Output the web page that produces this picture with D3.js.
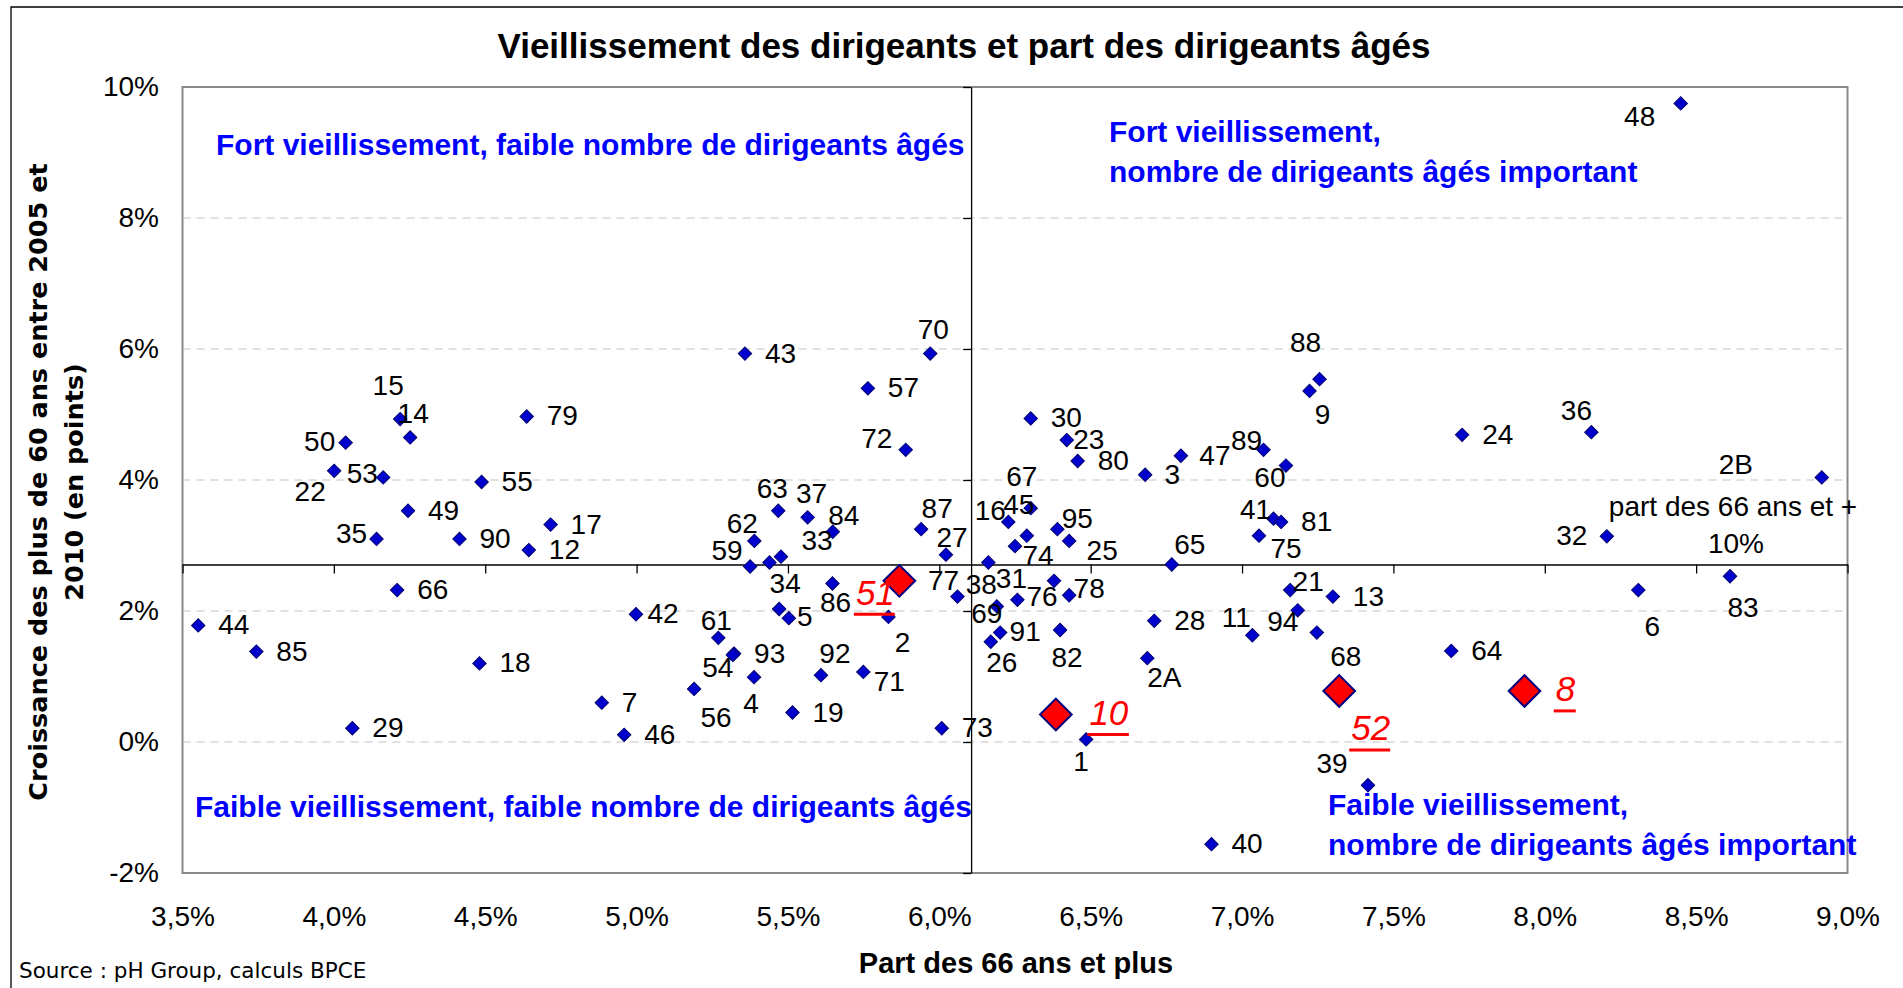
<!DOCTYPE html>
<html>
<head>
<meta charset="utf-8">
<script src="https://cdn.jsdelivr.net/npm/d3@7"></script>
<style>
body{margin:0;background:#fff;}
svg{display:block;}
</style>
</head>
<body>
<svg id="chart" width="1903" height="988"></svg>
<script>
// départements
var depts = ["44","85","29","22","50","53","15","14","35","49","90","55","79","17","12","66","18","7","46","42",
	"61","93","54","56","4","19","92","71","5","34","58","59","62","63","37","84","33","86","2","51",
	"87","27","77","43","57","72","70","73","16","67","45","74","38","95","25","31","76","78","69","91",
	"26","82","30","23","80","3","47","89","60","88","9","41","81","75","65","28","2A","11","21","94",
	"68","13","52","10","1","39","40","48","24","36","2B","32","83","6","64","8"];
// part des 66 ans et plus (%)
var part66 = [3.552,3.744,4.061,4.001,4.039,4.163,4.219,4.252,4.141,4.245,4.415,4.488,4.637,4.716,4.644,4.209,4.481,4.885,4.959,4.998,
	5.270,5.322,5.318,5.190,5.388,5.515,5.609,5.749,5.503,5.471,5.439,5.375,5.389,5.468,5.565,5.648,5.477,5.647,5.832,5.868,
	5.940,6.022,6.060,5.358,5.764,5.889,5.970,6.008,6.228,6.302,6.289,6.250,6.162,6.390,6.429,6.258,6.379,6.429,6.190,6.201,
	6.170,6.399,6.302,6.421,6.457,6.680,6.798,7.071,7.145,7.256,7.223,7.104,7.129,7.056,6.768,6.710,6.687,7.034,7.159,7.184,
	7.247,7.300,7.321,6.385,6.485,7.416,6.899,8.449,7.727,8.154,8.915,8.205,8.612,8.309,7.691,7.933];
// croissance des plus de 60 ans entre 2005 et 2010 (points)
var croissance = [1.78,1.38,0.21,4.14,4.57,4.04,4.93,4.65,3.10,3.53,3.10,3.97,4.97,3.32,2.93,2.32,1.20,0.60,0.11,1.95,
	1.59,1.35,1.33,0.81,0.99,0.45,1.02,1.07,1.89,2.03,2.74,2.68,3.07,3.53,3.43,3.21,2.83,2.42,1.91,2.46,
	3.25,2.86,2.22,5.93,5.40,4.46,5.93,0.21,3.36,3.57,3.15,2.99,2.74,3.25,3.07,2.17,2.46,2.24,2.07,1.67,
	1.53,1.71,4.94,4.61,4.29,4.08,4.37,4.46,4.22,5.54,5.36,3.41,3.36,3.15,2.71,1.85,1.28,1.63,2.32,2.01,
	1.67,2.22,0.78,0.42,0.04,-0.66,-1.56,9.75,4.69,4.73,4.04,3.14,2.53,2.32,1.39,0.78];
var highlighted = ["51","10","52","8"];
var noLabel = ["58"];
var xTicks = [3.5,4,4.5,5,5.5,6,6.5,7,7.5,8,8.5,9];
var yTicks = [-2,0,2,4,6,8,10];
var xCross = 6.105, yCross = 2.71;

// position des étiquettes (décalage du centre par rapport au point)
var labelPos = {
	"15":[-12,-34],"14":[3,-24],"50":[-26,-2],"22":[-24,20],"53":[-21,-4],"35":[-25,-6],
	"70":[3,-25],"72":[-29,-12],"63":[-6,-23],"37":[4,-24],"84":[11,-17],"33":[36,-17],"62":[-12,-18],
	"59":[-23,-16],"34":[6,-26],"5":[16,-2],"87":[16,-21],"27":[6,-18],"86":[3,19],"2":[14,25],
	"77":[-14,-17],"42":[27,-1],"61":[-2,-18],"54":[-15,12],"4":[-3,26],"56":[22,28],"92":[14,-22],"71":[26,9],
	"16":[-18,-12],"45":[-8,-32],"67":[-9,-32],"74":[23,9],"95":[20,-11],"25":[33,9],"38":[-7,21],
	"31":[-6,-22],"76":[-12,15],"78":[20,-7],"69":[-10,7],"91":[25,-2],"26":[11,20],"82":[7,27],
	"23":[22,-1],"3":[27,-1],"47":[34,-1],"89":[-17,-10],"60":[-16,11],"88":[-14,-37],"9":[13,23],
	"41":[-18,-10],"75":[27,12],"65":[18,-20],"2A":[17,19],"11":[-16,-18],"94":[-15,11],"21":[18,-9],
	"68":[29,23],"48":[-41,13],"36":[-15,-22],"2B":[-86,-13],"32":[-35,-1],"83":[13,31],"6":[14,36],
	"1":[-5,22],"39":[-36,-22],
	"51":[-24,11.5],"10":[53,-2],"52":[31.5,37],"8":[41,-2]
};

var FONT = '"Liberation Sans", Arial, sans-serif';
var svg = d3.select('#chart');
var x = d3.scaleLinear().domain([3.5, 9]).range([182.5, 1847.5]);
var y = d3.scaleLinear().domain([-2, 10]).range([873, 87]);
var fr = d3.formatLocale({decimal: ',', thousands: ' ', grouping: [3], currency: ['', ' €']});
var fmtX = fr.format('.1f');

// cadre extérieur
svg.append('path')
	.attr('d', 'M11,990V7H1905')
	.attr('fill', 'none')
	.attr('stroke', '#000')
	.attr('stroke-width', 1.3);

// titre
svg.append('text')
	.attr('x', 964).attr('y', 58)
	.attr('text-anchor', 'middle')
	.style('font', 'bold 35px ' + FONT)
	.text('Vieillissement des dirigeants et part des dirigeants âgés');

// grille
svg.append('g').selectAll('line')
	.data(yTicks.filter(function(d){ return d > -2 && d < 10; }))
	.join('line')
	.attr('x1', x(3.5)).attr('x2', x(9))
	.attr('y1', function(d){ return y(d); })
	.attr('y2', function(d){ return y(d); })
	.attr('stroke', '#c4c4c4')
	.attr('stroke-width', 1.2)
	.attr('stroke-dasharray', '8,6');

// zone de tracé
svg.append('rect')
	.attr('x', x(3.5)).attr('y', y(10))
	.attr('width', x(9) - x(3.5)).attr('height', y(-2) - y(10))
	.attr('fill', 'none')
	.attr('stroke', '#8a8a8a')
	.attr('stroke-width', 2);

// axes qui se croisent aux moyennes
var axX = svg.append('g')
	.attr('transform', 'translate(0,' + y(yCross) + ')')
	.call(d3.axisBottom(x).tickValues(xTicks).tickSize(9).tickSizeOuter(0).tickFormat(''));
var axY = svg.append('g')
	.attr('transform', 'translate(' + x(xCross) + ',0)')
	.call(d3.axisLeft(y).tickValues(yTicks).tickSize(8).tickSizeOuter(0).tickFormat(''));
[axX, axY].forEach(function(a){
	a.selectAll('path, line').attr('stroke', '#000').attr('stroke-width', 1.3);
});

// étiquettes des axes (en bas et à gauche)
var lbX = svg.append('g')
	.attr('transform', 'translate(0,906)')
	.call(d3.axisBottom(x).tickValues(xTicks).tickSize(0).tickPadding(0)
		.tickFormat(function(d){ return fmtX(d) + '%'; }));
var lbY = svg.append('g')
	.attr('transform', 'translate(159,0)')
	.call(d3.axisLeft(y).tickValues(yTicks).tickSize(0).tickPadding(0)
		.tickFormat(function(d){ return d + '%'; }));
[lbX, lbY].forEach(function(a){
	a.select('.domain').remove();
	a.selectAll('text').style('font', '28px ' + FONT).attr('fill', '#000');
});

// titres des axes
svg.append('text')
	.attr('x', 1016).attr('y', 973)
	.attr('text-anchor', 'middle')
	.style('font', 'bold 29px ' + FONT)
	.text('Part des 66 ans et plus');
var yTitle = svg.append('text')
	.attr('transform', 'translate(0,482) rotate(-90)')
	.attr('text-anchor', 'middle')
	.style('font', 'bold 25.5px "DejaVu Sans", Verdana, sans-serif');
yTitle.append('tspan').attr('x', 0).attr('y', 47).text('Croissance des plus de 60 ans entre 2005 et');
yTitle.append('tspan').attr('x', 0).attr('y', 83).text('2010 (en points)');

// source
svg.append('text')
	.attr('x', 19).attr('y', 978)
	.style('font', '21.5px "DejaVu Sans", Verdana, sans-serif')
	.text('Source : pH Group, calculs BPCE');

// textes des quadrants
var quad = svg.append('g')
	.attr('fill', '#0000ff')
	.style('font', 'bold 30px ' + FONT);
quad.append('text').attr('x', 216).attr('y', 155).text('Fort vieillissement, faible nombre de dirigeants âgés');
quad.append('text').attr('x', 1109).attr('y', 142).text('Fort vieillissement,');
quad.append('text').attr('x', 1109).attr('y', 182).text('nombre de dirigeants âgés important');
quad.append('text').attr('x', 195).attr('y', 817).text('Faible vieillissement, faible nombre de dirigeants âgés');
quad.append('text').attr('x', 1328).attr('y', 815).text('Faible vieillissement,');
quad.append('text').attr('x', 1328).attr('y', 855).text('nombre de dirigeants âgés important');

// annotation
var note = svg.append('text')
	.attr('text-anchor', 'middle')
	.style('font', '28px ' + FONT);
note.append('tspan').attr('x', 1733).attr('y', 516).text('part des 66 ans et +');
note.append('tspan').attr('x', 1736).attr('y', 553).text('10%');

// points
var pts = depts.map(function(d, i){
	return {name: d, px: part66[i], cr: croissance[i], hl: highlighted.indexOf(d) >= 0};
});
var pos = function(d){ return 'translate(' + x(d.px) + ',' + y(d.cr) + ') rotate(45)'; };

svg.append('g').selectAll('path')
	.data(pts.filter(function(d){ return !d.hl; }))
	.join('path')
	.attr('transform', pos)
	.attr('d', d3.symbol().type(d3.symbolSquare).size(90))
	.attr('fill', '#0000cc')
	.attr('stroke', '#000070')
	.attr('stroke-width', 1);

svg.append('g').selectAll('path')
	.data(pts.filter(function(d){ return d.hl; }))
	.join('path')
	.attr('transform', pos)
	.attr('d', d3.symbol().type(d3.symbolSquare).size(500))
	.attr('fill', '#ff0000')
	.attr('stroke', '#000080')
	.attr('stroke-width', 2);

// étiquettes des points
svg.append('g')
	.style('font', '28px ' + FONT)
	.selectAll('text')
	.data(pts.filter(function(d){ return !d.hl && noLabel.indexOf(d.name) < 0; }))
	.join('text')
	.each(function(d){
		var o = labelPos[d.name];
		var t = d3.select(this);
		if(o){
			t.attr('text-anchor', 'middle')
				.attr('x', x(d.px) + o[0])
				.attr('y', y(d.cr) + o[1] + 10);
		}else{
			t.attr('text-anchor', 'start')
				.attr('x', x(d.px) + 20)
				.attr('y', y(d.cr) + 9);
		}
	})
	.text(function(d){ return d.name; });

// départements mis en avant : rouge, italique, souligné
var red = svg.append('g')
	.attr('fill', '#ff0000')
	.style('font', 'italic 35px ' + FONT);
red.selectAll('text')
	.data(pts.filter(function(d){ return d.hl; }))
	.join('text')
	.attr('text-anchor', 'middle')
	.attr('x', function(d){ return x(d.px) + labelPos[d.name][0]; })
	.attr('y', function(d){ return y(d.cr) + labelPos[d.name][1] + 12.5; })
	.text(function(d){ return d.name; })
	.each(function(d){
		var b = this.getBBox();
		var yy = y(d.cr) + labelPos[d.name][1] + 12.5 + 9.5;
		red.append('line')
			.attr('x1', b.x - 2).attr('x2', b.x + b.width)
			.attr('y1', yy).attr('y2', yy)
			.attr('stroke', '#ff0000')
			.attr('stroke-width', 3);
	});
</script>
</body>
</html>
